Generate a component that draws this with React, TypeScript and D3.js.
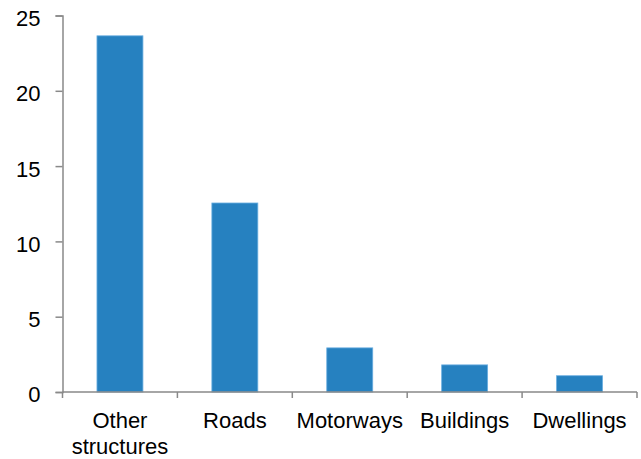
import React, { useEffect, useRef } from 'react';
import * as d3 from 'd3';

const categories = ['Other structures', 'Roads', 'Motorways', 'Buildings', 'Dwellings'];
const values = [23.65, 12.55, 2.93, 1.8, 1.08];
const yTicks = [0, 5, 10, 15, 20, 25];

export default function App() {
    const svgRef = useRef<SVGSVGElement>(null);

    useEffect(() => {
        document.body.style.margin = '0';
        if (!svgRef.current) return;

        const width = 641;
        const height = 459;
        const margin = { top: 15.5, right: 4, bottom: 67, left: 62.5 };
        const innerWidth = width - margin.left - margin.right;
        const innerHeight = height - margin.top - margin.bottom;
        const font = '"Liberation Sans", Arial, sans-serif';

        d3.select(svgRef.current).selectAll('*').remove();
        const svg = d3.select(svgRef.current);
        const g = svg.append('g')
            .attr('transform', `translate(${margin.left},${margin.top})`);

        const x = d3.scaleBand<string>()
            .domain(categories)
            .range([0, innerWidth])
            .paddingInner(0.6)
            .paddingOuter(0.3);

        const y = d3.scaleLinear()
            .domain([0, 25])
            .range([innerHeight, 0]);

        // bars
        g.selectAll('rect.bar')
            .data(categories)
            .enter()
            .append('rect')
            .attr('class', 'bar')
            .attr('x', d => x(d)!)
            .attr('y', (d, i) => y(values[i]))
            .attr('width', x.bandwidth())
            .attr('height', (d, i) => innerHeight - y(values[i]))
            .attr('fill', '#2681c0')
            .attr('stroke', '#6aaee0')
            .attr('stroke-width', 0.8);

        // y axis
        const yAxis = d3.axisLeft(y)
            .tickValues(yTicks)
            .tickSize(7)
            .tickPadding(15)
            .tickFormat(d => `${d}`);

        const ya = g.append('g').call(yAxis);
        ya.select('.domain').attr('stroke', '#898989').attr('stroke-width', 1.5);
        ya.selectAll('.tick line').attr('stroke', '#898989').attr('stroke-width', 1.5);
        ya.selectAll('.tick text')
            .attr('fill', '#000')
            .attr('dy', '0.45em')
            .style('font-family', font)
            .style('font-size', '22px');

        // x axis with tick marks at band boundaries
        const bounds = d3.range(categories.length + 1).map(i => i * (innerWidth / categories.length));
        const xa = g.append('g').attr('transform', `translate(0,${innerHeight})`);
        xa.append('line')
            .attr('x1', 0).attr('x2', innerWidth)
            .attr('stroke', '#898989').attr('stroke-width', 1.5);
        xa.selectAll('line.tk')
            .data(bounds)
            .enter()
            .append('line')
            .attr('class', 'tk')
            .attr('x1', d => d).attr('x2', d => d)
            .attr('y1', 0).attr('y2', 6)
            .attr('stroke', '#898989').attr('stroke-width', 1.5);

        const labels = xa.selectAll('text.lbl')
            .data(categories)
            .enter()
            .append('text')
            .attr('class', 'lbl')
            .attr('x', d => x(d)! + x.bandwidth() / 2)
            .attr('y', 36)
            .attr('text-anchor', 'middle')
            .attr('fill', '#000')
            .style('font-family', font)
            .style('font-size', '22px');

        labels.each(function (d) {
            const words = d.split(' ');
            const t = d3.select(this);
            words.forEach((w, i) => {
                t.append('tspan')
                    .attr('x', x(d)! + x.bandwidth() / 2)
                    .attr('dy', i === 0 ? 0 : 26)
                    .text(w);
            });
        });
    }, []);

    return (
        <svg ref={svgRef} width={641} height={459} style={{ display: 'block', background: '#fff' }}></svg>
    );
}
